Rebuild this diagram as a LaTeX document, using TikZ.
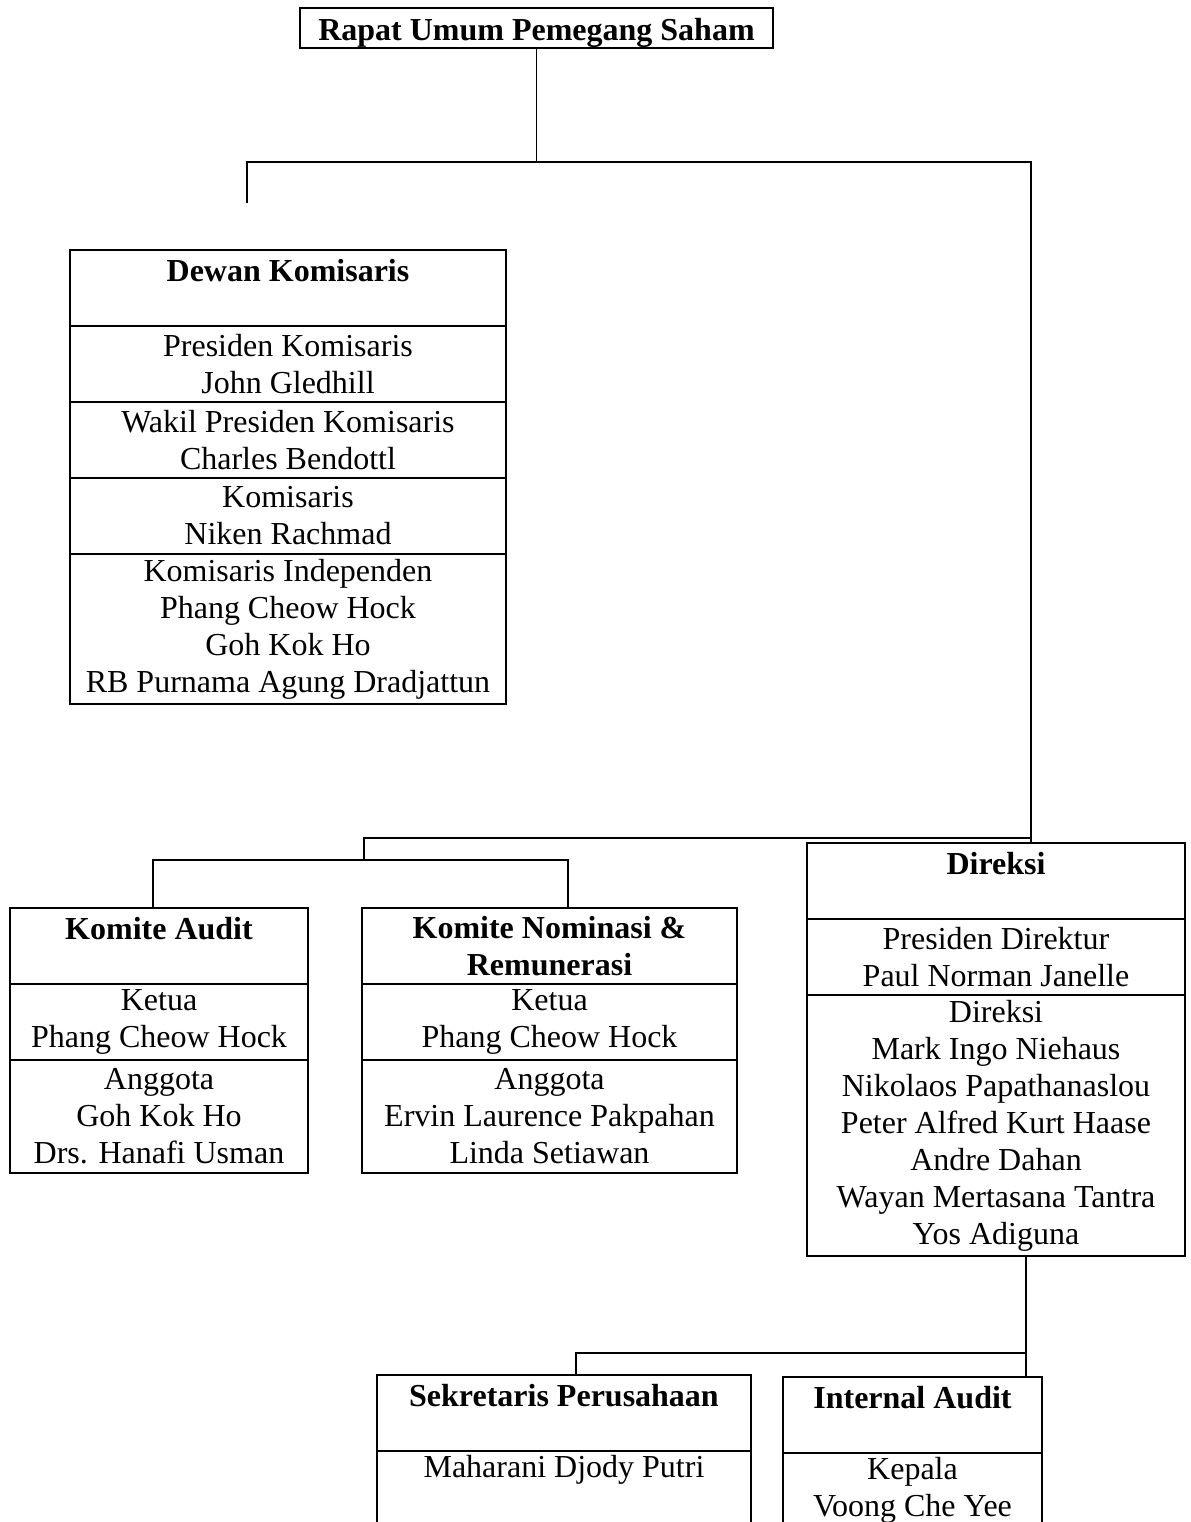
\documentclass[tikz,border=0pt]{standalone}
\usepackage{fontspec}
\setmainfont{Liberation Serif}
\usetikzlibrary{positioning}

\newcommand{\headline}[1]{\strut\raisebox{-2.5pt}[0pt][0pt]{\textbf{#1}}}

\tikzset{
  box/.style={draw, line width=0.8pt, align=center, inner xsep=0pt, inner ysep=0.5pt,
    outer sep=0pt, anchor=north, font=\fontsize{16pt}{18.5pt}\selectfont},
  nlines/.style={minimum height=#1*18.5pt+1pt},
  wide/.style={minimum width=#1},
  link/.style={line width=0.8pt}
}

\begin{document}
\begin{tikzpicture}[x=0.5pt, y=-0.5pt]
    \useasboundingbox (0,0) rectangle (1190,1522);
    \clip (0,0) rectangle (1190,1522);

    % draw top box
    \node[box, wide=236.5pt, minimum height=20pt, anchor=center] (rups) at (536.5,28) {\headline{Rapat Umum Pemegang Saham}};

    % draw dewan komisaris
    \node[box, wide=218pt, nlines=2] (dk0) at (288,250) {\headline{Dewan Komisaris}\\ \strut};
    \node[box, wide=218pt, nlines=2, below=0pt of dk0] (dk1) {Presiden Komisaris\\ John Gledhill};
    \node[box, wide=218pt, nlines=2, below=0pt of dk1] (dk2) {Wakil Presiden Komisaris\\ Charles Bendottl};
    \node[box, wide=218pt, nlines=2, below=0pt of dk2] (dk3) {Komisaris\\ Niken Rachmad};
    \node[box, wide=218pt, nlines=4, below=0pt of dk3] (dk4) {Komisaris Independen\\ Phang Cheow Hock\\ Goh Kok Ho\\ RB Purnama Agung Dradjattun};

    % draw komite audit
    \node[box, wide=149pt, nlines=2] (ka0) at (159,908) {\headline{Komite Audit}\\ \strut};
    \node[box, wide=149pt, nlines=2, below=0pt of ka0] (ka1) {Ketua\\ Phang Cheow Hock};
    \node[box, wide=149pt, nlines=3, below=0pt of ka1] (ka2) {Anggota\\ Goh Kok Ho\\ Drs. Hanafi Usman};

    % draw komite nominasi
    \node[box, wide=187.5pt, nlines=2] (kn0) at (549.5,908) {\textbf{Komite Nominasi \&}\\ \textbf{Remunerasi}};
    \node[box, wide=187.5pt, nlines=2, below=0pt of kn0] (kn1) {Ketua\\ Phang Cheow Hock};
    \node[box, wide=187.5pt, nlines=3, below=0pt of kn1] (kn2) {Anggota\\ Ervin Laurence Pakpahan\\ Linda Setiawan};

    % draw direksi
    \node[box, wide=189pt, nlines=2] (dr0) at (996,843) {\headline{Direksi}\\ \strut};
    \node[box, wide=189pt, nlines=2, below=0pt of dr0] (dr1) {Presiden Direktur\\ Paul Norman Janelle};
    \node[box, wide=189pt, nlines=7, below=0pt of dr1] (dr2) {Direksi\\ Mark Ingo Niehaus\\ Nikolaos Papathanaslou\\ Peter Alfred Kurt Haase\\ Andre Dahan\\ Wayan Mertasana Tantra\\ Yos Adiguna};

    % draw sekretaris and internal audit
    \node[box, wide=187pt, nlines=2] (sp0) at (564,1375) {\headline{Sekretaris Perusahaan}\\ \strut};
    \node[box, wide=187pt, nlines=3, below=0pt of sp0] (sp1) {\strut Maharani Djody Putri\\ \strut\\ \strut};
    \node[box, wide=129.5pt, nlines=2] (ia0) at (912.5,1377) {\headline{Internal Audit}\\ \strut};
    \node[box, wide=129.5pt, nlines=3, below=0pt of ia0] (ia1) {\strut Kepala\\ Voong Che Yee\\ \strut};

    % draw connectors
    \coordinate (barL) at (247,162);
    \coordinate (barR) at (1031,162);
    \coordinate (dkend) at (247,203);
    \draw[link] (rups.south) -- (rups.south |- barL);
    \draw[link] (dkend) -- (barL) -- (barR) -- (barR |- dr0.north);

    \coordinate (cmR) at (1031,838);
    \coordinate (cmL) at (364,838);
    \coordinate (kmL) at (153,860);
    \coordinate (kmR) at (568,860);
    \draw[link] (cmR) -- (cmL) -- (cmL |- kmL);
    \draw[link] (ka0.north -| kmL) -- (kmL) -- (kmR) -- (kn0.north -| kmR);

    \coordinate (bdR) at (1026,1353);
    \coordinate (bdL) at (576,1353);
    \draw[link] (dr2.south -| bdR) -- (ia0.north -| bdR);
    \draw[link] (bdR) -- (bdL) -- (sp0.north -| bdL);

\end{tikzpicture}
\end{document}
